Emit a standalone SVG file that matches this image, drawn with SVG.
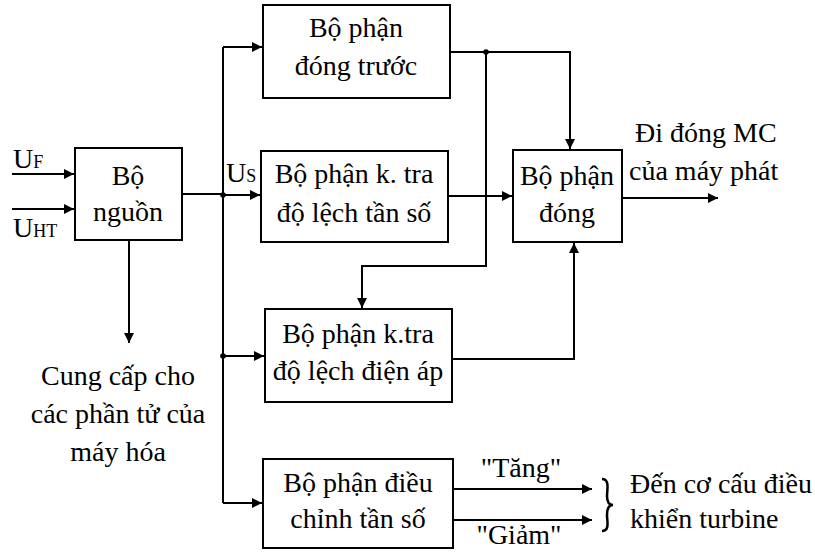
<svg xmlns="http://www.w3.org/2000/svg" width="815" height="552" viewBox="0 0 815 552">
<defs>
<marker id="ah" viewBox="0 0 10 10" refX="10" refY="5" markerWidth="10" markerHeight="10" markerUnits="userSpaceOnUse" orient="auto">
<path d="M0,0 L10,5 L0,10 Z" fill="#000"/>
</marker>
</defs>
<rect width="815" height="552" fill="#fff"/>
<g id="connectors" fill="none" stroke="#000" stroke-width="2">
<path d="M12,174 H74" marker-end="url(#ah)"/>
<path d="M12,209 H74" marker-end="url(#ah)"/>
<path d="M182,194 H223"/>
<path d="M223,47 V503"/>
<path d="M223,47 H262" marker-end="url(#ah)"/>
<path d="M223,195 H260" marker-end="url(#ah)"/>
<path d="M223,356 H264" marker-end="url(#ah)"/>
<path d="M223,503 H262" marker-end="url(#ah)"/>
<circle cx="223" cy="195" r="2.8" fill="#000" stroke="none"/>
<circle cx="223" cy="356" r="2.8" fill="#000" stroke="none"/>
<path d="M129,240 V343" marker-end="url(#ah)"/>
<path d="M450,52 H570 V149" marker-end="url(#ah)"/>
<circle cx="486" cy="52" r="2.8" fill="#000" stroke="none"/>
<path d="M486,52 V266 H362 V308" marker-end="url(#ah)"/>
<path d="M448,196 H512" marker-end="url(#ah)"/>
<path d="M452,359 H574 V243" marker-end="url(#ah)"/>
<path d="M622,198 H718" marker-end="url(#ah)"/>
<path d="M453,489 H592" marker-end="url(#ah)"/>
<path d="M453,520 H592" marker-end="url(#ah)"/>
<path d="M602,479 C610,479 607,490 607,496 C607,502 609,505 613,505 C609,505 607,508 607,515 C607,521 610,531 602,531" stroke-width="2.5"/>
</g>
<g font-family="Liberation Serif" font-size="28" fill="#000">
<g id="inputs">
<text x="13" y="168">U<tspan font-size="18">F</tspan></text>
<text x="13" y="237">U<tspan font-size="18">HT</tspan></text>
<text x="226" y="182">U<tspan font-size="18">S</tspan></text>
</g>
<g id="bo-nguon">
<rect x="75" y="148" width="107" height="92" fill="#fff" stroke="#000" stroke-width="2"/>
<text x="128" y="185" text-anchor="middle">Bộ</text>
<text x="128" y="221" text-anchor="middle">nguồn</text>
</g>
<g id="dong-truoc">
<rect x="263" y="5" width="187" height="93" fill="#fff" stroke="#000" stroke-width="2"/>
<text x="356" y="37" text-anchor="middle">Bộ phận</text>
<text x="356" y="75" text-anchor="middle">đóng trước</text>
</g>
<g id="ktra-tan-so">
<rect x="261" y="151" width="187" height="91" fill="#fff" stroke="#000" stroke-width="2"/>
<text x="354" y="183" text-anchor="middle">Bộ phận k. tra</text>
<text x="354" y="222" text-anchor="middle">độ lệch tần số</text>
</g>
<g id="dong">
<rect x="513" y="150" width="109" height="92" fill="#fff" stroke="#000" stroke-width="2"/>
<text x="567" y="185" text-anchor="middle">Bộ phận</text>
<text x="567" y="222" text-anchor="middle">đóng</text>
</g>
<g id="ktra-dien-ap">
<rect x="265" y="309" width="187" height="93" fill="#fff" stroke="#000" stroke-width="2"/>
<text x="358" y="343" text-anchor="middle">Bộ phận k.tra</text>
<text x="358" y="380" text-anchor="middle">độ lệch điện áp</text>
</g>
<g id="dieu-chinh">
<rect x="263" y="459" width="190" height="89" fill="#fff" stroke="#000" stroke-width="2"/>
<text x="358" y="492" text-anchor="middle">Bộ phận điều</text>
<text x="358" y="528" text-anchor="middle">chỉnh tần số</text>
</g>
<g id="labels">
<text x="635" y="142">Đi đóng MC</text>
<text x="629" y="180">của máy phát</text>
<text x="118" y="385" text-anchor="middle">Cung cấp cho</text>
<text x="118" y="423" text-anchor="middle">các phần tử của</text>
<text x="118" y="461" text-anchor="middle">máy hóa</text>
<text x="521" y="477" text-anchor="middle">"Tăng"</text>
<text x="519" y="544" text-anchor="middle">"Giảm"</text>
<text x="630" y="493">Đến cơ cấu điều</text>
<text x="630" y="528">khiển turbine</text>
</g>
</g>
</svg>
